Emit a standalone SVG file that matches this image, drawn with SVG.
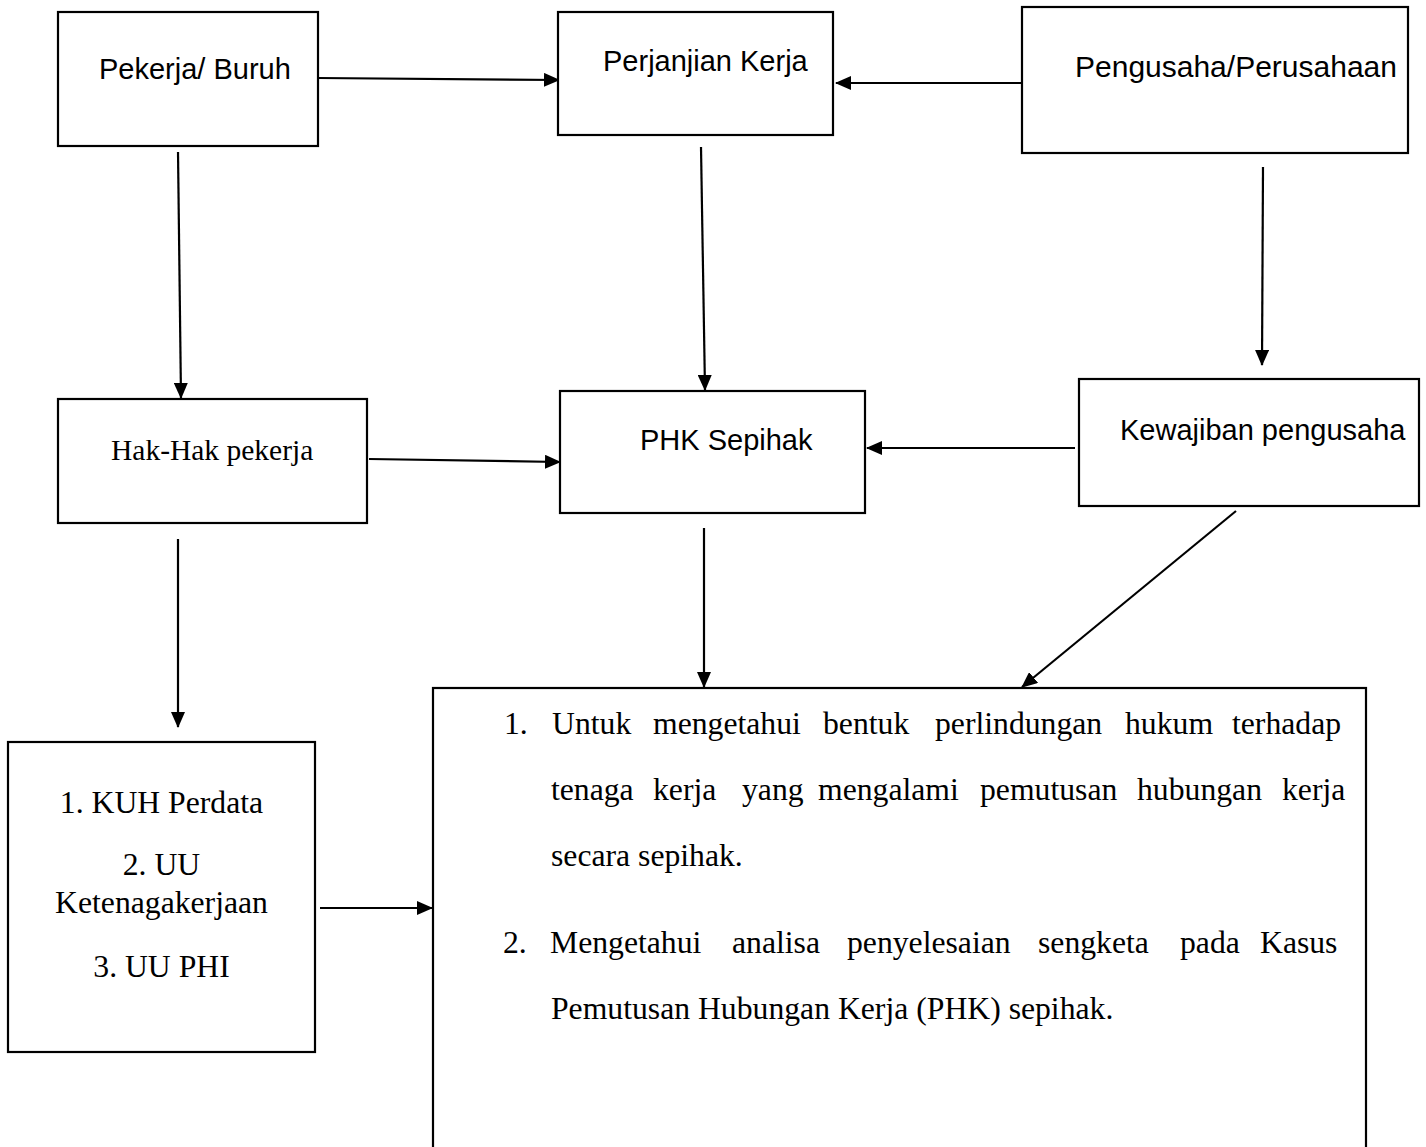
<svg xmlns="http://www.w3.org/2000/svg" width="1426" height="1147" viewBox="0 0 1426 1147">
<style>
.box{fill:#fff;stroke:#000;stroke-width:2.2}
.sans{font-family:"Liberation Sans",Arial,sans-serif;font-size:29px;fill:#000}
.serif{font-family:"Liberation Serif","Times New Roman",serif;fill:#000}
.big{font-size:31.7px}
.conn{stroke:#000;stroke-width:2.2;fill:none;marker-end:url(#ah)}
</style>
<defs>
<marker id="ah" markerUnits="userSpaceOnUse" markerWidth="16" markerHeight="14" refX="15" refY="7" orient="auto">
<path d="M0,0 L16,7 L0,14 z" fill="#000"/>
</marker>
</defs>
<rect width="1426" height="1147" fill="#fff"/>
<g id="connectors">
<line class="conn" x1="318" y1="78" x2="559" y2="80"/>
<line class="conn" x1="1022" y1="83" x2="836" y2="83"/>
<line class="conn" x1="178" y1="152" x2="181" y2="398"/>
<line class="conn" x1="701" y1="147" x2="705" y2="390"/>
<line class="conn" x1="1263" y1="167" x2="1262" y2="365"/>
<line class="conn" x1="369" y1="459" x2="560" y2="462"/>
<line class="conn" x1="1075" y1="448" x2="867" y2="448"/>
<line class="conn" x1="178" y1="539" x2="178" y2="727"/>
<line class="conn" x1="704" y1="528" x2="704" y2="687"/>
<line class="conn" x1="1236" y1="511" x2="1022" y2="687"/>
<line class="conn" x1="320" y1="908" x2="432" y2="908"/>
</g>
<g id="pekerja">
<rect class="box" x="58" y="12" width="260" height="134"/>
<text class="sans" x="99" y="79">Pekerja/ Buruh</text>
</g>
<g id="perjanjian">
<rect class="box" x="558" y="12" width="275" height="123"/>
<text class="sans" x="603" y="71">Perjanjian Kerja</text>
</g>
<g id="pengusaha">
<rect class="box" x="1022" y="7" width="386" height="146"/>
<text class="sans" x="1075" y="77" style="font-size:30px">Pengusaha/Perusahaan</text>
</g>
<g id="hak">
<rect class="box" x="58" y="399" width="309" height="124"/>
<text class="serif" x="111" y="460" style="font-size:29.5px">Hak-Hak pekerja</text>
</g>
<g id="phk">
<rect class="box" x="560" y="391" width="305" height="122"/>
<text class="sans" x="640" y="450">PHK Sepihak</text>
</g>
<g id="kewajiban">
<rect class="box" x="1079" y="379" width="340" height="127"/>
<text class="sans" x="1120" y="440">Kewajiban pengusaha</text>
</g>
<g id="dasar-hukum">
<rect class="box" x="8" y="742" width="307" height="310"/>
<text class="serif big" text-anchor="middle" x="161.5" y="813">1. KUH Perdata</text>
<text class="serif big" text-anchor="middle" x="161.5" y="875">2. UU</text>
<text class="serif big" text-anchor="middle" x="161.5" y="913">Ketenagakerjaan</text>
<text class="serif big" text-anchor="middle" x="161.5" y="977">3. UU PHI</text>
</g>
<g id="tujuan">
<rect class="box" x="433" y="688" width="933" height="480"/>
<text class="serif big" y="734"><tspan x="504">1.</tspan><tspan x="552">Untuk</tspan><tspan x="653">mengetahui</tspan><tspan x="823">bentuk</tspan><tspan x="935">perlindungan</tspan><tspan x="1125">hukum</tspan><tspan x="1232">terhadap</tspan></text>
<text class="serif big" y="800"><tspan x="551">tenaga</tspan><tspan x="653">kerja</tspan><tspan x="742">yang</tspan><tspan x="818">mengalami</tspan><tspan x="980">pemutusan</tspan><tspan x="1137">hubungan</tspan><tspan x="1282">kerja</tspan></text>
<text class="serif big" x="551" y="866">secara sepihak.</text>
<text class="serif big" y="953"><tspan x="503">2.</tspan><tspan x="550">Mengetahui</tspan><tspan x="732">analisa</tspan><tspan x="847">penyelesaian</tspan><tspan x="1038">sengketa</tspan><tspan x="1180">pada</tspan><tspan x="1260">Kasus</tspan></text>
<text class="serif big" x="551" y="1019">Pemutusan Hubungan Kerja (PHK) sepihak.</text>
</g>
</svg>
